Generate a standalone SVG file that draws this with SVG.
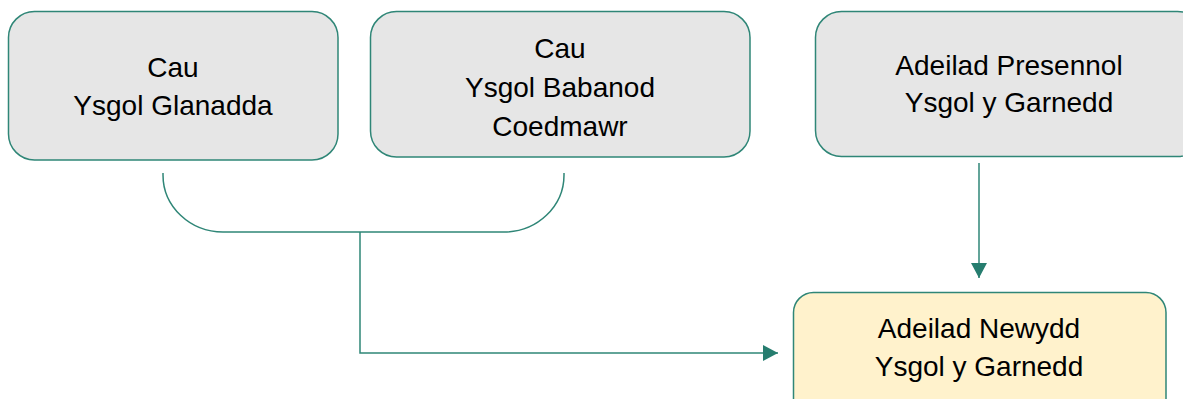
<svg xmlns="http://www.w3.org/2000/svg" width="1183" height="399" viewBox="0 0 1183 399">
  <style>
    .box { stroke: #2f8677; stroke-width: 1.5; }
    .grey { fill: #e6e6e6; }
    .yellow { fill: #fff2cc; }
    .lbl { font-family: "Liberation Sans", Arial, sans-serif; font-size: 28px; fill: #000; text-anchor: middle; }
    .conn { fill: none; stroke: #2f8677; stroke-width: 1.5; }
  </style>
  <defs>
    <marker id="arrow" viewBox="0 0 15 16" refX="15" refY="8" markerWidth="15" markerHeight="16" markerUnits="userSpaceOnUse" orient="auto">
      <path d="M0,0 L15,8 L0,16 Z" fill="#267d6f"/>
    </marker>
  </defs>
  <rect width="1183" height="399" fill="#ffffff"/>

  <g id="node-glanadda">
    <rect class="box grey" x="8.5" y="11.5" width="329.5" height="148.5" rx="26" ry="26"/>
    <text class="lbl" x="173" y="77">Cau</text>
    <text class="lbl" x="173" y="115">Ysgol Glanadda</text>
  </g>

  <g id="node-coedmawr">
    <rect class="box grey" x="370.5" y="11.5" width="379.5" height="145.5" rx="26" ry="26"/>
    <text class="lbl" x="560" y="58">Cau</text>
    <text class="lbl" x="560" y="97">Ysgol Babanod</text>
    <text class="lbl" x="560" y="136">Coedmawr</text>
  </g>

  <g id="node-presennol">
    <rect class="box grey" x="815.5" y="11.5" width="388" height="145" rx="26" ry="26"/>
    <text class="lbl" x="1009" y="75">Adeilad Presennol</text>
    <text class="lbl" x="1009" y="112">Ysgol y Garnedd</text>
  </g>

  <g id="node-newydd">
    <rect class="box yellow" x="793.5" y="292.5" width="372.5" height="130" rx="20" ry="20"/>
    <text class="lbl" x="979" y="338">Adeilad Newydd</text>
    <text class="lbl" x="979" y="376">Ysgol y Garnedd</text>
  </g>

  <g id="connectors">
    <path class="conn" d="M163,173 L163,175 A60,57 0 0 0 223,232 L504,232 A60,57 0 0 0 564,175 L564,173"/>
    <path class="conn" d="M360,232 L360,353 L778,353" marker-end="url(#arrow)"/>
    <path class="conn" d="M979,163 L979,278" marker-end="url(#arrow)"/>
  </g>
</svg>
